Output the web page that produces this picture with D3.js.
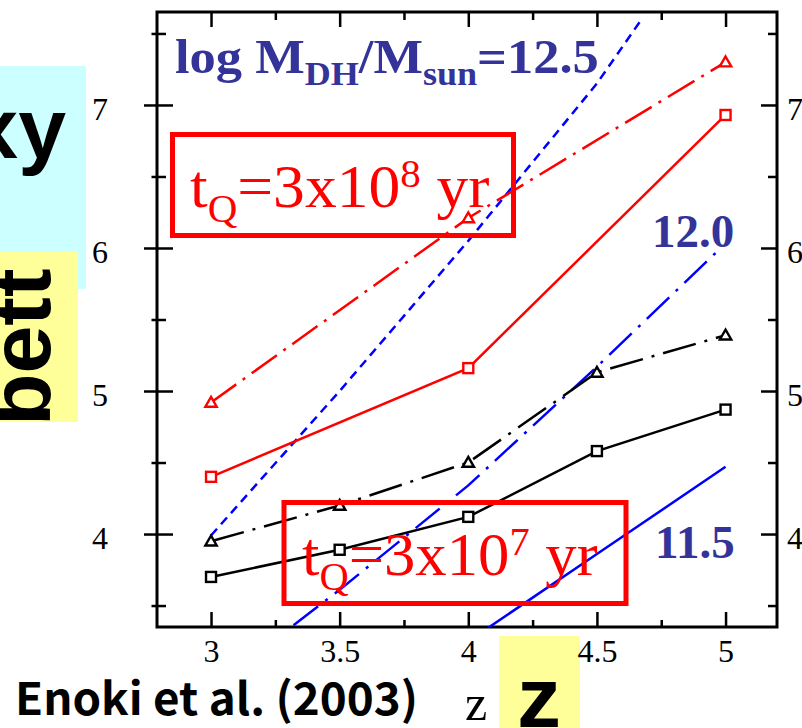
<!DOCTYPE html>
<html>
<head>
<meta charset="utf-8">
<script src="https://cdn.jsdelivr.net/npm/d3@7"></script>
<style>
  html, body { margin: 0; padding: 0; background: #fff; }
  svg { display: block; }
</style>
</head>
<body>
<svg id="chart" width="802" height="728"></svg>
<script>
// Redshift grid of the model runs
const zGrid = [3, 3.5, 4, 4.5, 5];
// t_Q = 3x10^7 yr : squares (solid line) and triangles (dash-dot line)
const shortSquares = [3.70, 3.89, 4.12, 4.58, 4.87];
const shortTriangles = [3.95, 4.20, 4.50, 5.13, 5.39];
// t_Q = 3x10^8 yr
const zLong = [3, 4, 5];
const longSquares = [4.40, 5.16, 6.93];
const longTriangles = [4.92, 6.21, 7.30];
// Dark-halo mass curves, log M_DH/M_sun = 12.5, 12.0, 11.5
const zHalo125 = [3, 3.5, 4, 4.5, 4.67];
const halo125 = [3.99, 5.00, 6.05, 7.15, 7.59];
const zHalo120 = [3, 3.5, 4, 4.5, 4.97];
const halo120 = [2.92, 3.61, 4.34, 5.17, 5.98];
const zHalo115 = [4, 4.5, 5];
const halo115 = [3.25, 3.86, 4.47];
// Tick values
const xMajor = [3, 3.5, 4, 4.5, 5];
const xMinor = [3.25, 3.75, 4.25, 4.75];
const yMajor = [4, 5, 6, 7];
const yMinor = [3.5, 4.5, 5.5, 6.5, 7.5];

const SERIF = "'Liberation Serif', 'Times New Roman', Times, serif";
const SANS = "'Liberation Sans', Arial, Helvetica, sans-serif";
const NAVY = "#333399";
const RED = "#ff0000";
const BLUE = "#0000ff";

const svg = d3.select("#chart");
const L = 157, R = 777, T = 12, B = 627;

const x = d3.scaleLinear().domain([2.79, 5.2]).range([L, R]);
const y = d3.scaleLinear().domain([3.35, 7.65]).range([B, T]);

// Stretch a text element horizontally so that it spans a given width
function fitWidth(sel, x0, width) {
  const bb = sel.node().getBBox();
  const s = width / bb.width;
  sel.attr("transform", `translate(${x0},0) scale(${s},1) translate(${-x0},0)`);
}

// ---- slide annotations behind the plot ----
svg.append("rect").attr("x", 0).attr("y", 66).attr("width", 86).attr("height", 223).attr("fill", "#ccffff");
svg.append("text").attr("x", 66).attr("y", 158).attr("text-anchor", "end")
  .attr("font-family", SANS).attr("font-weight", "bold").attr("font-size", 86).attr("fill", "#000")
  .text("xy");
svg.append("rect").attr("x", 0).attr("y", 252).attr("width", 78).attr("height", 170).attr("fill", "#ffff99");
svg.append("text").attr("transform", "translate(50,426) rotate(-90)")
  .attr("font-family", SANS).attr("font-weight", "bold").attr("font-size", 86).attr("fill", "#000")
  .text("bett");
svg.append("rect").attr("x", 499).attr("y", 636).attr("width", 81).attr("height", 92).attr("fill", "#ffff99");

// ---- axes ----
const tickStyle = g => {
  g.select(".domain").remove();
  g.selectAll(".tick line").attr("stroke", "#000").attr("stroke-width", 2.5);
  g.attr("font-family", SERIF).attr("font-size", 32);
  g.selectAll(".tick text").attr("fill", "#000");
};

svg.append("g").attr("transform", `translate(0,${B})`)
  .call(d3.axisBottom(x).tickValues(xMajor).tickSizeInner(-15).tickSizeOuter(0).tickPadding(12).tickFormat(d3.format("")))
  .call(tickStyle);
svg.append("g").attr("transform", `translate(0,${B})`)
  .call(d3.axisBottom(x).tickValues(xMinor).tickSizeInner(-7).tickSizeOuter(0).tickFormat(""))
  .call(tickStyle);
svg.append("g").attr("transform", `translate(0,${T})`)
  .call(d3.axisTop(x).tickValues(xMajor).tickSizeInner(-15).tickSizeOuter(0).tickFormat(""))
  .call(tickStyle);
svg.append("g").attr("transform", `translate(0,${T})`)
  .call(d3.axisTop(x).tickValues(xMinor).tickSizeInner(-8).tickSizeOuter(0).tickFormat(""))
  .call(tickStyle);

const leftMajor = svg.append("g").attr("transform", `translate(${L},0)`)
  .call(d3.axisLeft(y).tickValues(yMajor).tickSizeInner(13).tickSizeOuter(0).tickPadding(36).tickFormat(d3.format("d")))
  .call(tickStyle);
leftMajor.selectAll(".tick line").attr("x1", 16);
leftMajor.selectAll(".tick text").attr("dy", "0.45em");
const leftMinor = svg.append("g").attr("transform", `translate(${L},0)`)
  .call(d3.axisLeft(y).tickValues(yMinor).tickSizeInner(5.5).tickSizeOuter(0).tickFormat(""))
  .call(tickStyle);
leftMinor.selectAll(".tick line").attr("x1", 9);

const rightMajor = svg.append("g").attr("transform", `translate(${R},0)`)
  .call(d3.axisRight(y).tickValues(yMajor).tickSizeInner(-16).tickSizeOuter(0).tickPadding(10).tickFormat(d3.format("d")))
  .call(tickStyle);
rightMajor.selectAll(".tick text").attr("dy", "0.45em");
svg.append("g").attr("transform", `translate(${R},0)`)
  .call(d3.axisRight(y).tickValues(yMinor).tickSizeInner(-9).tickSizeOuter(0).tickFormat(""))
  .call(tickStyle);

svg.append("rect").attr("x", L).attr("y", T).attr("width", R - L).attr("height", B - T)
  .attr("fill", "none").attr("stroke", "#000").attr("stroke-width", 3);

// axis title
svg.append("text").attr("x", 465).attr("y", 720)
  .attr("font-family", SERIF).attr("font-size", 50).attr("fill", "#000").text("z");

// ---- curves ----
svg.append("clipPath").attr("id", "plot-clip")
  .append("rect").attr("x", L).attr("y", T).attr("width", R - L).attr("height", B - T);
const plot = svg.append("g").attr("clip-path", "url(#plot-clip)");
const line = d3.line().x(d => x(d[0])).y(d => y(d[1]));
const pairs = (zs, vs) => zs.map((z, i) => [z, vs[i]]);

const curves = [
  { data: pairs(zHalo125, halo125), color: BLUE, dash: "9,6", w: 2.5 },
  { data: pairs(zHalo120, halo120), color: BLUE, dash: "31,9,3,9", w: 2.5 },
  { data: pairs(zHalo115, halo115), color: BLUE, dash: null, w: 2.5 },
  { data: pairs(zGrid, shortSquares), color: "#000", dash: null, w: 2.5 },
  { data: pairs(zGrid, shortTriangles), color: "#000", dash: "34,9,3,9", w: 2.5 },
  { data: pairs(zLong, longSquares), color: RED, dash: null, w: 2.5 },
  { data: pairs(zLong, longTriangles), color: RED, dash: "31,8,3,8", w: 2.5 }
];
curves.forEach(c => {
  plot.append("path").datum(c.data).attr("d", line)
    .attr("fill", "none").attr("stroke", c.color).attr("stroke-width", c.w)
    .attr("stroke-dasharray", c.dash);
});

// ---- markers ----
const tri = d3.symbol().type(d3.symbolTriangle).size(56);
function squares(data, color) {
  svg.append("g").selectAll("rect").data(data).join("rect")
    .attr("x", d => x(d[0]) - 5).attr("y", d => y(d[1]) - 5)
    .attr("width", 10).attr("height", 10)
    .attr("fill", "#fff").attr("stroke", color).attr("stroke-width", 2.4);
}
function triangles(data, color) {
  svg.append("g").selectAll("path").data(data).join("path")
    .attr("d", tri)
    .attr("transform", d => `translate(${x(d[0])},${y(d[1]) + 1})`)
    .attr("fill", "#fff").attr("stroke", color).attr("stroke-width", 2.4);
}
squares(pairs(zGrid, shortSquares), "#000");
triangles(pairs(zGrid, shortTriangles), "#000");
squares(pairs(zLong, longSquares), RED);
triangles(pairs(zLong, longTriangles), RED);

// ---- labels ----
const title = svg.append("text").attr("x", 175).attr("y", 73)
  .attr("font-family", SERIF).attr("font-weight", "bold").attr("font-size", 48).attr("fill", NAVY);
title.append("tspan").text("log M");
title.append("tspan").attr("font-size", 33).attr("dy", 12).text("DH");
title.append("tspan").attr("dy", -12).text("/M");
title.append("tspan").attr("font-size", 33).attr("dy", 12).text("sun");
title.append("tspan").attr("dy", -12).text("=12.5");
fitWidth(title, 175, 424);

svg.append("text").attr("x", 652).attr("y", 247)
  .attr("font-family", SERIF).attr("font-weight", "bold").attr("font-size", 47).attr("fill", NAVY).text("12.0");
svg.append("text").attr("x", 655).attr("y", 558)
  .attr("font-family", SERIF).attr("font-weight", "bold").attr("font-size", 47).attr("fill", NAVY).text("11.5");

function lifetimeBox(rx, ry, rw, rh, tx, ty, tw, exponent) {
  svg.append("rect").attr("x", rx).attr("y", ry).attr("width", rw).attr("height", rh)
    .attr("fill", "none").attr("stroke", RED).attr("stroke-width", 5);
  const t = svg.append("text").attr("x", tx).attr("y", ty)
    .attr("font-family", SERIF).attr("font-size", 62).attr("fill", RED);
  t.append("tspan").text("t");
  t.append("tspan").attr("font-size", 40).attr("dy", 15).text("Q");
  t.append("tspan").attr("dy", -15).text("=3x10");
  t.append("tspan").attr("font-size", 40).attr("dy", -20).text(exponent);
  t.append("tspan").attr("dy", 20).text(" yr");
  fitWidth(t, tx, tw);
}
lifetimeBox(172.5, 134.5, 341, 101, 190, 207, 300, "8");
lifetimeBox(284, 502.5, 342, 101, 302, 575, 296, "7");

// ---- foreground slide text ----
svg.append("text").attr("x", 15).attr("y", 715)
  .attr("font-family", "'Noto Sans CJK JP', 'Noto Sans', sans-serif").attr("font-weight", "bold")
  .attr("font-size", 45).attr("fill", "#000")
  .attr("textLength", 403).attr("lengthAdjust", "spacingAndGlyphs")
  .text("Enoki et al. (2003)");

const bigZ = svg.append("text").attr("x", 517).attr("y", 727)
  .attr("font-family", SANS).attr("font-weight", "bold").attr("font-size", 86).attr("fill", "#000").text("z");
fitWidth(bigZ, 517, 44);
</script>
</body>
</html>
